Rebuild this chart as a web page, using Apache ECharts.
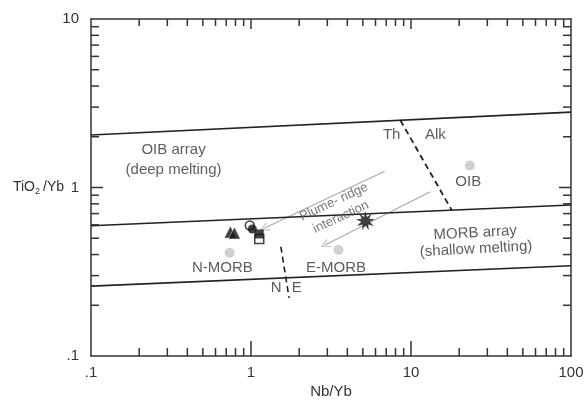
<!DOCTYPE html>
<html>
<head>
<meta charset="utf-8">
<script src="https://cdn.jsdelivr.net/npm/echarts@6/dist/echarts.min.js"></script>
<style>html,body{margin:0;padding:0;background:#fff}#c{width:588px;height:408px}</style>
</head>
<body>
<div id="c"></div>
<script>
// ---- data ----
const xTickLabels = {0.1: '.1', 1: '1', 10: '10', 100: '100'};
const yTickLabels = {0.1: '.1', 1: '1', 10: '10'};
const xMinorTicks = [0.2,0.3,0.4,0.5,0.6,0.7,0.8,0.9,2,3,4,5,6,7,8,9,20,30,40,50,60,70,80,90];
const yMinorTicks = [0.2,0.3,0.4,0.5,0.6,0.7,0.8,0.9,2,3,4,5,6,7,8,9];
const xMajorTicks = [1, 10];
const yMajorTicks = [1];

const oibArrayLine = [[0.1, 2.05], [100, 2.8]];
const morbUpperLine = [[0.1, 0.593], [100, 0.787]];
const morbLowerLine = [[0.1, 0.26], [100, 0.343]];
const thAlkLine = [[8.58, 2.506], [17.97, 0.734]];
const nELine = [[1.537, 0.445], [1.73, 0.221]];
const plumeArrows = [
  [[6.84, 1.25], [1.21, 0.573]],
  [[13.2, 0.944], [2.90, 0.456]]
];

const referencePoints = [[0.735, 0.41], [3.52, 0.426], [23.3, 1.35]]; // N-MORB, E-MORB, OIB
const triangles = [[0.743, 0.544], [0.787, 0.537]];
const openCircles = [[0.983, 0.595]];
const filledCircles = [[1.019, 0.567]];
const openSquares = [[1.126, 0.495]];
const filledSquares = [[1.126, 0.53]];
const stars = [[5.19, 0.635]];

const textLabels = [
  {name: 'OIB array', value: [0.328, 1.67]},
  {name: '(deep melting)', value: [0.328, 1.27]},
  {name: 'Th', value: [7.57, 2.05]},
  {name: 'Alk', value: [14.2, 2.05]},
  {name: 'OIB', value: [22.8, 1.078]},
  {name: 'MORB array', value: [25.2, 0.537], rot: 3},
  {name: '(shallow melting)', value: [25.5, 0.431], rot: 3},
  {name: 'N-MORB', value: [0.663, 0.333]},
  {name: 'E-MORB', value: [3.40, 0.333]},
  {name: 'N', value: [1.437, 0.253]},
  {name: 'E', value: [1.93, 0.253]},
  {name: 'Plume- ridge', value: [3.30, 0.82], rot: 25, small: true},
  {name: 'interaction', value: [3.65, 0.668], rot: 25, small: true}
];

// ---- chart ----
const FONT = 'Liberation Sans, Arial, sans-serif';
const AX = '#333';
const starPath = (function () {
  let d = '';
  for (let i = 0; i < 18; i++) {
    const a = Math.PI * i / 9;
    const r = i % 2 ? 4.5 : 10;
    d += (i ? 'L' : 'M') + (10 + r * Math.sin(a)).toFixed(2) + ',' + (10 - r * Math.cos(a)).toFixed(2);
  }
  return 'path://' + d + 'Z';
})();
const chevron = 'path://M5,0L10,10L9,10L5,2L1,10L0,10Z';

const tickData = [];
xMinorTicks.forEach(v => tickData.push([v, 1, 0]));
xMajorTicks.forEach(v => tickData.push([v, 1, 2]));
yMinorTicks.forEach(v => tickData.push([1, v, 1]));
yMajorTicks.forEach(v => tickData.push([1, v, 3]));

function lineSeries(data, opts) {
  return Object.assign({
    type: 'line', data: data, symbol: 'none', silent: true, z: 3,
    lineStyle: {color: '#222', width: 1.6}
  }, opts || {});
}

const chart = echarts.init(document.getElementById('c'), null, {renderer: 'canvas'});
chart.setOption({
  animation: false,
  backgroundColor: '#fff',
  grid: {left: 91, right: 17, top: 19, bottom: 52, containLabel: false},
  xAxis: [{
    type: 'log', logBase: 10, min: 0.1, max: 100, position: 'bottom',
    axisLine: {show: true, lineStyle: {color: AX, width: 1.5}},
    axisTick: {show: false},
    minorTick: {show: false},
    splitLine: {show: false},
    axisLabel: {color: '#333', fontSize: 15, fontFamily: FONT, margin: 9,
      formatter: v => xTickLabels[+(+v).toPrecision(3)] || ''},
    name: 'Nb/Yb', nameLocation: 'middle', nameGap: 28, nameMoveOverlap: false,
    nameTextStyle: {color: '#333', fontSize: 15, fontFamily: FONT}
  }, {
    type: 'log', logBase: 10, min: 0.1, max: 100, position: 'top',
    axisLine: {show: true, lineStyle: {color: AX, width: 1.5}},
    axisTick: {show: false}, axisLabel: {show: false}, splitLine: {show: false}
  }],
  yAxis: [{
    type: 'log', logBase: 10, min: 0.1, max: 10, position: 'left',
    axisLine: {show: true, lineStyle: {color: AX, width: 1.5}},
    axisTick: {show: false},
    minorTick: {show: false},
    splitLine: {show: false},
    axisLabel: {color: '#333', fontSize: 15, fontFamily: FONT, margin: 12,
      formatter: v => yTickLabels[+(+v).toPrecision(3)] || ''},
    name: '{a|TiO}{b|2}{a|/Yb}', nameLocation: 'middle', nameRotate: 0, nameGap: 27,
    nameMoveOverlap: false,
    nameTextStyle: {rich: {
      a: {color: '#333', fontSize: 14, fontFamily: FONT},
      b: {color: '#333', fontSize: 9, fontFamily: FONT, verticalAlign: 'bottom', padding: [9, 3, 0, 0]}
    }}
  }, {
    type: 'log', logBase: 10, min: 0.1, max: 10, position: 'right',
    axisLine: {show: true, lineStyle: {color: AX, width: 1.5}},
    axisTick: {show: false}, axisLabel: {show: false}, splitLine: {show: false}
  }],
  series: [
    {
      type: 'custom', silent: true, z: 2, clip: false,
      data: tickData,
      renderItem: function (params, api) {
        const kind = api.value(2);
        const lw = {stroke: AX, lineWidth: 1.5};
        if (kind === 0 || kind === 2) {
          const v = api.value(0);
          const b = api.coord([v, 0.1]);
          const t = api.coord([v, 10]);
          const lb = kind === 2 ? 15 : 8;
          const lt = kind === 2 ? 10 : 7;
          return {type: 'group', children: [
            {type: 'line', shape: {x1: b[0], y1: b[1], x2: b[0], y2: b[1] - lb}, style: lw},
            {type: 'line', shape: {x1: t[0], y1: t[1], x2: t[0], y2: t[1] + lt}, style: lw}
          ]};
        } else {
          const v = api.value(1);
          const l = api.coord([0.1, v]);
          const r = api.coord([100, v]);
          const len = kind === 3 ? 12 : 8;
          return {type: 'group', children: [
            {type: 'line', shape: {x1: l[0], y1: l[1], x2: l[0] + len, y2: l[1]}, style: lw},
            {type: 'line', shape: {x1: r[0], y1: r[1], x2: r[0] - len, y2: r[1]}, style: lw}
          ]};
        }
      }
    },
    lineSeries(oibArrayLine),
    lineSeries(morbUpperLine),
    lineSeries(morbLowerLine),
    lineSeries(thAlkLine, {lineStyle: {color: '#222', width: 1.8, type: [6, 4]}}),
    lineSeries(nELine, {lineStyle: {color: '#222', width: 1.6, type: [6, 4]}}),
    {
      type: 'lines', coordinateSystem: 'cartesian2d', silent: true, z: 2,
      data: plumeArrows.map(c => ({coords: c})),
      symbol: ['none', chevron], symbolSize: 9,
      lineStyle: {color: '#aaa', width: 1.2, opacity: 1}
    },
    {
      type: 'scatter', data: referencePoints, symbol: 'circle', symbolSize: 10, z: 4,
      itemStyle: {color: '#c4c4c4'}
    },
    {
      type: 'scatter', data: triangles, symbol: 'triangle', symbolSize: 12, z: 5,
      itemStyle: {color: '#111', borderColor: '#fff', borderWidth: 0.5}
    },
    {
      type: 'scatter', data: openSquares, symbol: 'rect', symbolSize: 9, z: 5,
      itemStyle: {color: '#fff', borderColor: '#111', borderWidth: 1.5}
    },
    {
      type: 'scatter', data: filledSquares, symbol: 'rect', symbolSize: 9, z: 6,
      itemStyle: {color: '#111'}
    },
    {
      type: 'scatter', data: openCircles, symbol: 'circle', symbolSize: 9, z: 6,
      itemStyle: {color: '#fff', borderColor: '#111', borderWidth: 1.5}
    },
    {
      type: 'scatter', data: filledCircles, symbol: 'circle', symbolSize: 9, z: 7,
      itemStyle: {color: '#111'}
    },
    {
      type: 'scatter', data: stars, symbol: starPath, symbolSize: 19, z: 7,
      itemStyle: {color: '#111'}
    },
    {
      type: 'scatter', symbolSize: 0, silent: true, z: 8,
      data: textLabels.map(d => ({
        name: d.name, value: d.value,
        label: {
          show: true, position: 'inside', formatter: '{b}', rotate: d.rot || 0,
          color: d.small ? '#555' : '#333', fontSize: d.small ? 13 : 15, fontFamily: FONT
        }
      }))
    }
  ]
});
</script>
</body>
</html>
